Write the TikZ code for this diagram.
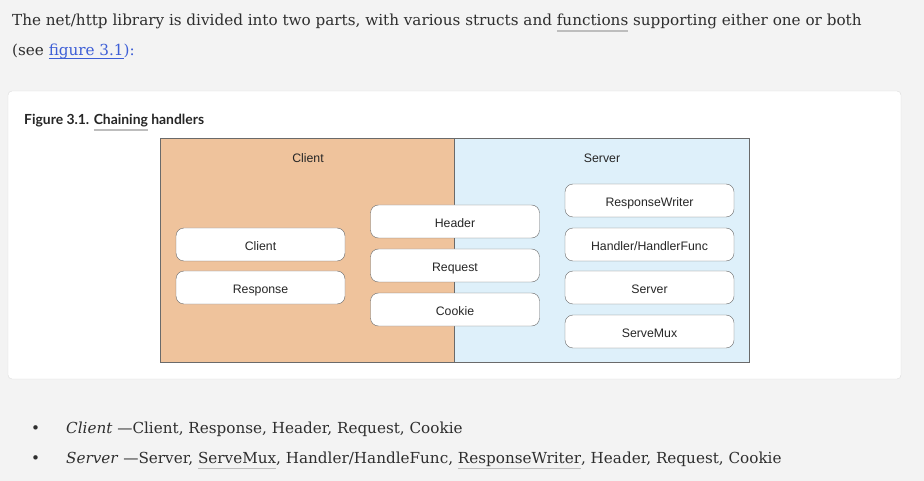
\documentclass[tikz,border=0pt]{standalone}
\usepackage{fontspec}
\setmainfont{DejaVu Serif}
\newfontfamily\titlefont{Lato}
\newfontfamily\boxfont{Liberation Sans}
\definecolor{pagegrey}{HTML}{F3F3F3}
\definecolor{cardline}{HTML}{DCDCDC}
\definecolor{bodytext}{HTML}{2E2E2E}
\definecolor{linkblue}{HTML}{3D5ED6}
\definecolor{ulgrey}{HTML}{BDBDBD}
\definecolor{clientfill}{HTML}{EFC39C}
\definecolor{serverfill}{HTML}{DEF0FA}
\definecolor{boxline}{HTML}{6A6A6A}
% grey underline for glossary words, blue one for links
\newcommand\grund[1]{\setbox0\hbox{#1}\rlap{\color{ulgrey}\rule[-6pt]{\wd0}{1.5pt}}\box0\relax}
\newcommand\linkund[1]{\setbox0\hbox{\color{linkblue}#1}\rlap{\color{linkblue}\rule[-2.5pt]{\wd0}{0.8pt}}\box0\relax}

\begin{document}
\begin{tikzpicture}[x=1pt,y=-1pt]
\tikzstyle{Para}=[anchor=base west, inner sep=0pt, font=\fontsize{15.2}{20}\selectfont, text=bodytext];
\tikzstyle{Part}=[draw=boxline, minimum width=295pt, minimum height=224pt, inner sep=0pt];
\tikzstyle{Head}=[font=\boxfont\fontsize{12.3}{14}\selectfont, text=black!85];
\tikzstyle{Item}=[draw=boxline, fill=white, rounded corners=8pt, minimum width=169pt, minimum height=33pt, inner sep=0pt, text height=11.5pt, text depth=0pt, font=\boxfont\fontsize{12.3}{14}\selectfont, text=black!85];
\fill[pagegrey] (0,0) rectangle (924,481);
\useasboundingbox (0,0) rectangle (924,481);
\node[Para] (p1) at (12,26) {The net/http library is divided into two parts, with various structs and \grund{functions} supporting either one or both};
\node[Para] (p2) at (12,56) {(see \linkund{figure 3.1}):};
\draw[cardline, fill=white, rounded corners=4pt] (8,91) rectangle (901,379);
\node[anchor=base west, inner sep=0pt, font=\titlefont\bfseries\fontsize{13.9}{16}\selectfont, text=black!85] (fig) at (24,125) {Figure 3.1. \grund{Chaining} handlers};
\node[Part, fill=clientfill] (client) at (307.5,250) {};
\node[Part, fill=serverfill] (server) at (602,250) {};
\node[Head] (clienthead) at (308,158) {Client};
\node[Head] (serverhead) at (602,158) {Server};
\node[Item] (c1) at (260.5,244.5) {Client};
\node[Item] (c2) at (260.5,287.5) {Response};
\node[Item] (b1) at (455,221.5) {Header};
\node[Item] (b2) at (455,265.5) {Request};
\node[Item] (b3) at (455,309.5) {Cookie};
\node[Item] (s1) at (649.5,200.5) {ResponseWriter};
\node[Item] (s2) at (649.5,244.5) {Handler/HandlerFunc};
\node[Item] (s3) at (649.5,287.5) {Server};
\node[Item] (s4) at (649.5,331.5) {ServeMux};
\node[Para] (dot1) at (31,433) {\textbullet};
\node[Para] (li1) at (66,433) {\textit{Client} —Client, Response, Header, Request, Cookie};
\node[Para] (dot2) at (31,463) {\textbullet};
\node[Para] (li2) at (66,463) {\textit{Server} —Server, \grund{ServeMux}, Handler/HandleFunc, \grund{ResponseWriter}, Header, Request, Cookie};
\end{tikzpicture}
\end{document}
